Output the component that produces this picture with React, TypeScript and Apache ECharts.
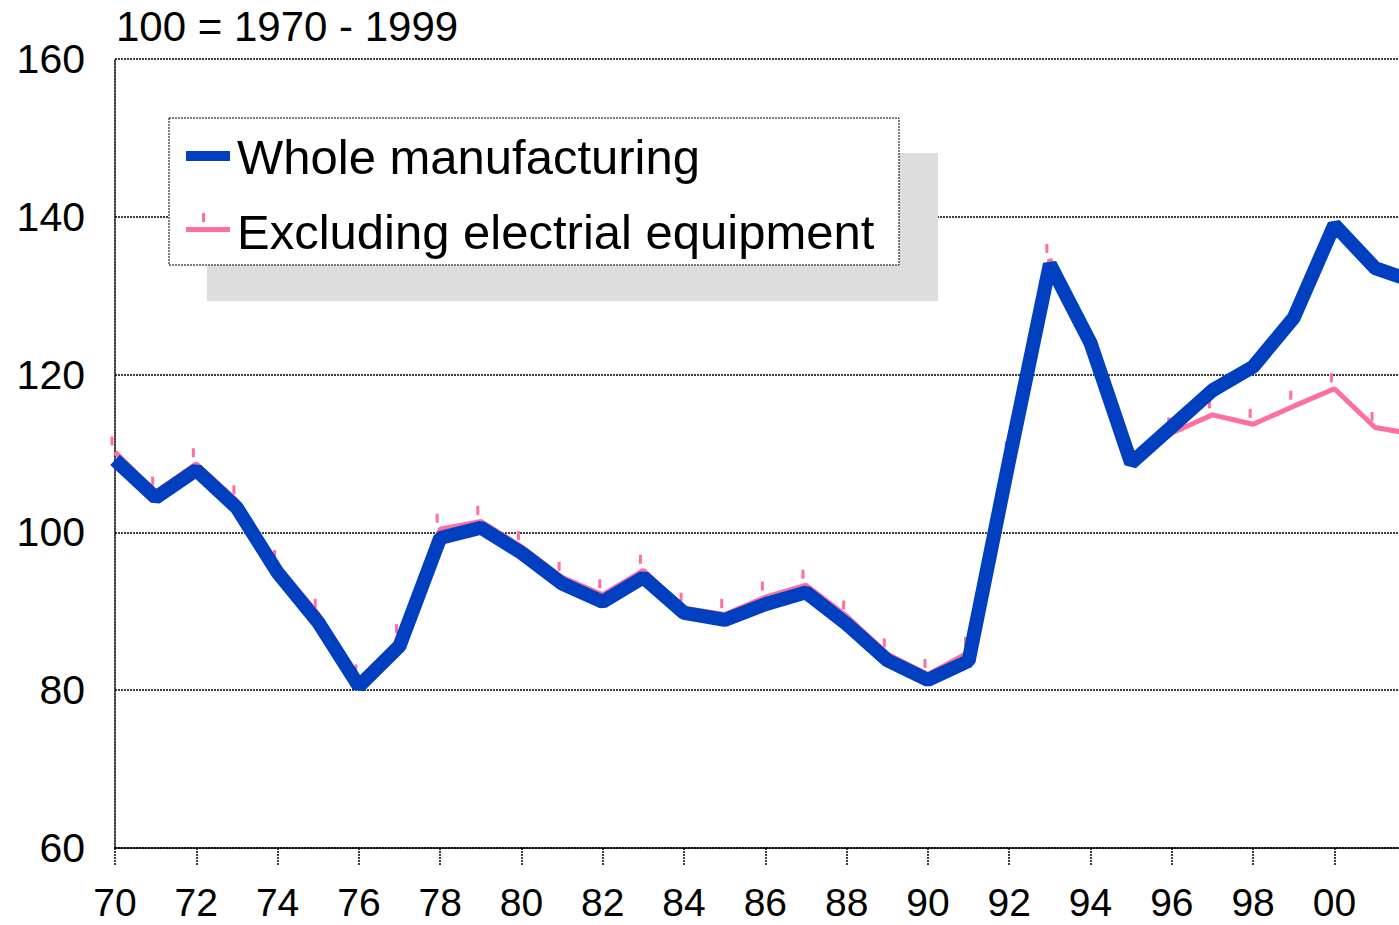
import React, { useEffect, useRef } from "react";
import * as echarts from "echarts";

const years = [1970,1971,1972,1973,1974,1975,1976,1977,1978,1979,1980,1981,1982,1983,1984,1985,1986,1987,1988,1989,1990,1991,1992,1993,1994,1995,1996,1997,1998,1999,2000,2001,2002];
const wholeManufacturing = [109.2,104.4,107.9,103.1,94.9,88.6,80.5,85.6,99.3,100.6,97.4,93.5,91.2,94.3,89.8,88.9,90.9,92.4,88.4,83.8,81.3,83.7,109.2,134.0,124.0,108.8,113.4,118.0,121.0,127.2,139.0,133.5,131.7];
const excludingElectrical = [110.2,105.1,108.7,104.0,95.8,89.6,81.3,86.4,100.4,101.4,98.2,94.3,92.1,95.2,90.4,89.6,91.8,93.3,89.4,84.6,82.0,84.8,109.6,134.6,124.3,108.9,112.6,114.9,113.7,116.0,118.2,113.3,112.4];
const seriesNames = ["Whole manufacturing", "Excluding electrial equipment"];
const titleText = "100 = 1970 - 1999";
const yTicks = { min: 60, max: 160, interval: 20 };
const xTicks = { min: 1970, max: 2004, interval: 2, lastLabel: 2000 };

const BLUE = "#0040c0";
const PINK = "#ff6ea0";
const FONT = "'Liberation Sans', Arial, sans-serif";

export default function App() {
  const ref = useRef<HTMLDivElement>(null);
  useEffect(() => {
    if (!ref.current) return;
    const chart = echarts.init(ref.current, undefined, { renderer: "svg" });
    const dotted = { color: "#000", width: 1.5, type: [2, 1] as any };
    chart.setOption({
      animation: false,
      textStyle: { fontFamily: FONT },
      grid: { left: 115, width: 1385, top: 59, bottom: 77, containLabel: false },
      xAxis: {
        type: "value",
        min: xTicks.min,
        max: xTicks.max,
        interval: xTicks.interval,
        axisLine: { show: true, lineStyle: dotted },
        axisTick: { show: true, length: 18, lineStyle: dotted },
        splitLine: { show: false },
        axisLabel: {
          fontSize: 39,
          lineHeight: 24,
          color: "#000",
          fontFamily: FONT,
          margin: 42,
          formatter: (v: number) =>
            Number.isInteger(v) && v <= xTicks.lastLabel ? String(v % 100).padStart(2, "0") : "",
        },
      },
      yAxis: {
        type: "value",
        min: yTicks.min,
        max: yTicks.max,
        interval: yTicks.interval,
        axisLine: { show: true, lineStyle: dotted },
        axisTick: { show: false },
        splitLine: { show: true, lineStyle: dotted },
        axisLabel: { fontSize: 41, color: "#000", fontFamily: FONT, margin: 30 },
      },
      series: [
        {
          name: seriesNames[1],
          type: "line",
          data: years.map((y, i) => [y, excludingElectrical[i]]),
          lineStyle: { color: PINK, width: 5 },
          itemStyle: { color: PINK },
          symbol: "rect",
          symbolSize: [3, 9],
          symbolOffset: [-3, -11],
          showSymbol: true,
          z: 2,
        },
        {
          name: seriesNames[0],
          type: "line",
          data: years.map((y, i) => [y, wholeManufacturing[i]]),
          lineStyle: { color: BLUE, width: 14 },
          itemStyle: { color: BLUE },
          symbol: "none",
          z: 3,
        },
      ],
      graphic: [
        {
          type: "text",
          x: 116,
          y: 26,
          style: { text: titleText, fontSize: 42, fill: "#000", fontFamily: FONT, textVerticalAlign: "middle" },
          z: 10,
        },
        {
          type: "rect",
          shape: { x: 207, y: 153, width: 731, height: 148 },
          style: { fill: "#dddddd" },
          z: 10,
        },
        {
          type: "rect",
          shape: { x: 169, y: 118, width: 730, height: 147 },
          style: { fill: "#fff", stroke: "#000", lineWidth: 1, lineDash: [2, 1] },
          z: 11,
        },
        {
          type: "rect",
          shape: { x: 186, y: 151, width: 44, height: 10 },
          style: { fill: BLUE },
          z: 12,
        },
        {
          type: "text",
          x: 237,
          y: 157,
          style: { text: seriesNames[0], fontSize: 49, fill: "#000", fontFamily: FONT, textVerticalAlign: "middle" },
          z: 12,
        },
        {
          type: "rect",
          shape: { x: 186, y: 227, width: 44, height: 5 },
          style: { fill: PINK },
          z: 12,
        },
        {
          type: "rect",
          shape: { x: 202, y: 213, width: 3, height: 9 },
          style: { fill: PINK },
          z: 12,
        },
        {
          type: "text",
          x: 237,
          y: 232,
          style: { text: seriesNames[1], fontSize: 49, fill: "#000", fontFamily: FONT, textVerticalAlign: "middle" },
          z: 12,
        },
      ],
    });
    return () => chart.dispose();
  }, []);
  return (
    <div style={{ position: "fixed", left: 0, top: 0, width: 1399, height: 925, overflow: "hidden", background: "#fff" }}>
      <div ref={ref} style={{ width: 1500, height: 925 }} />
    </div>
  );
}
